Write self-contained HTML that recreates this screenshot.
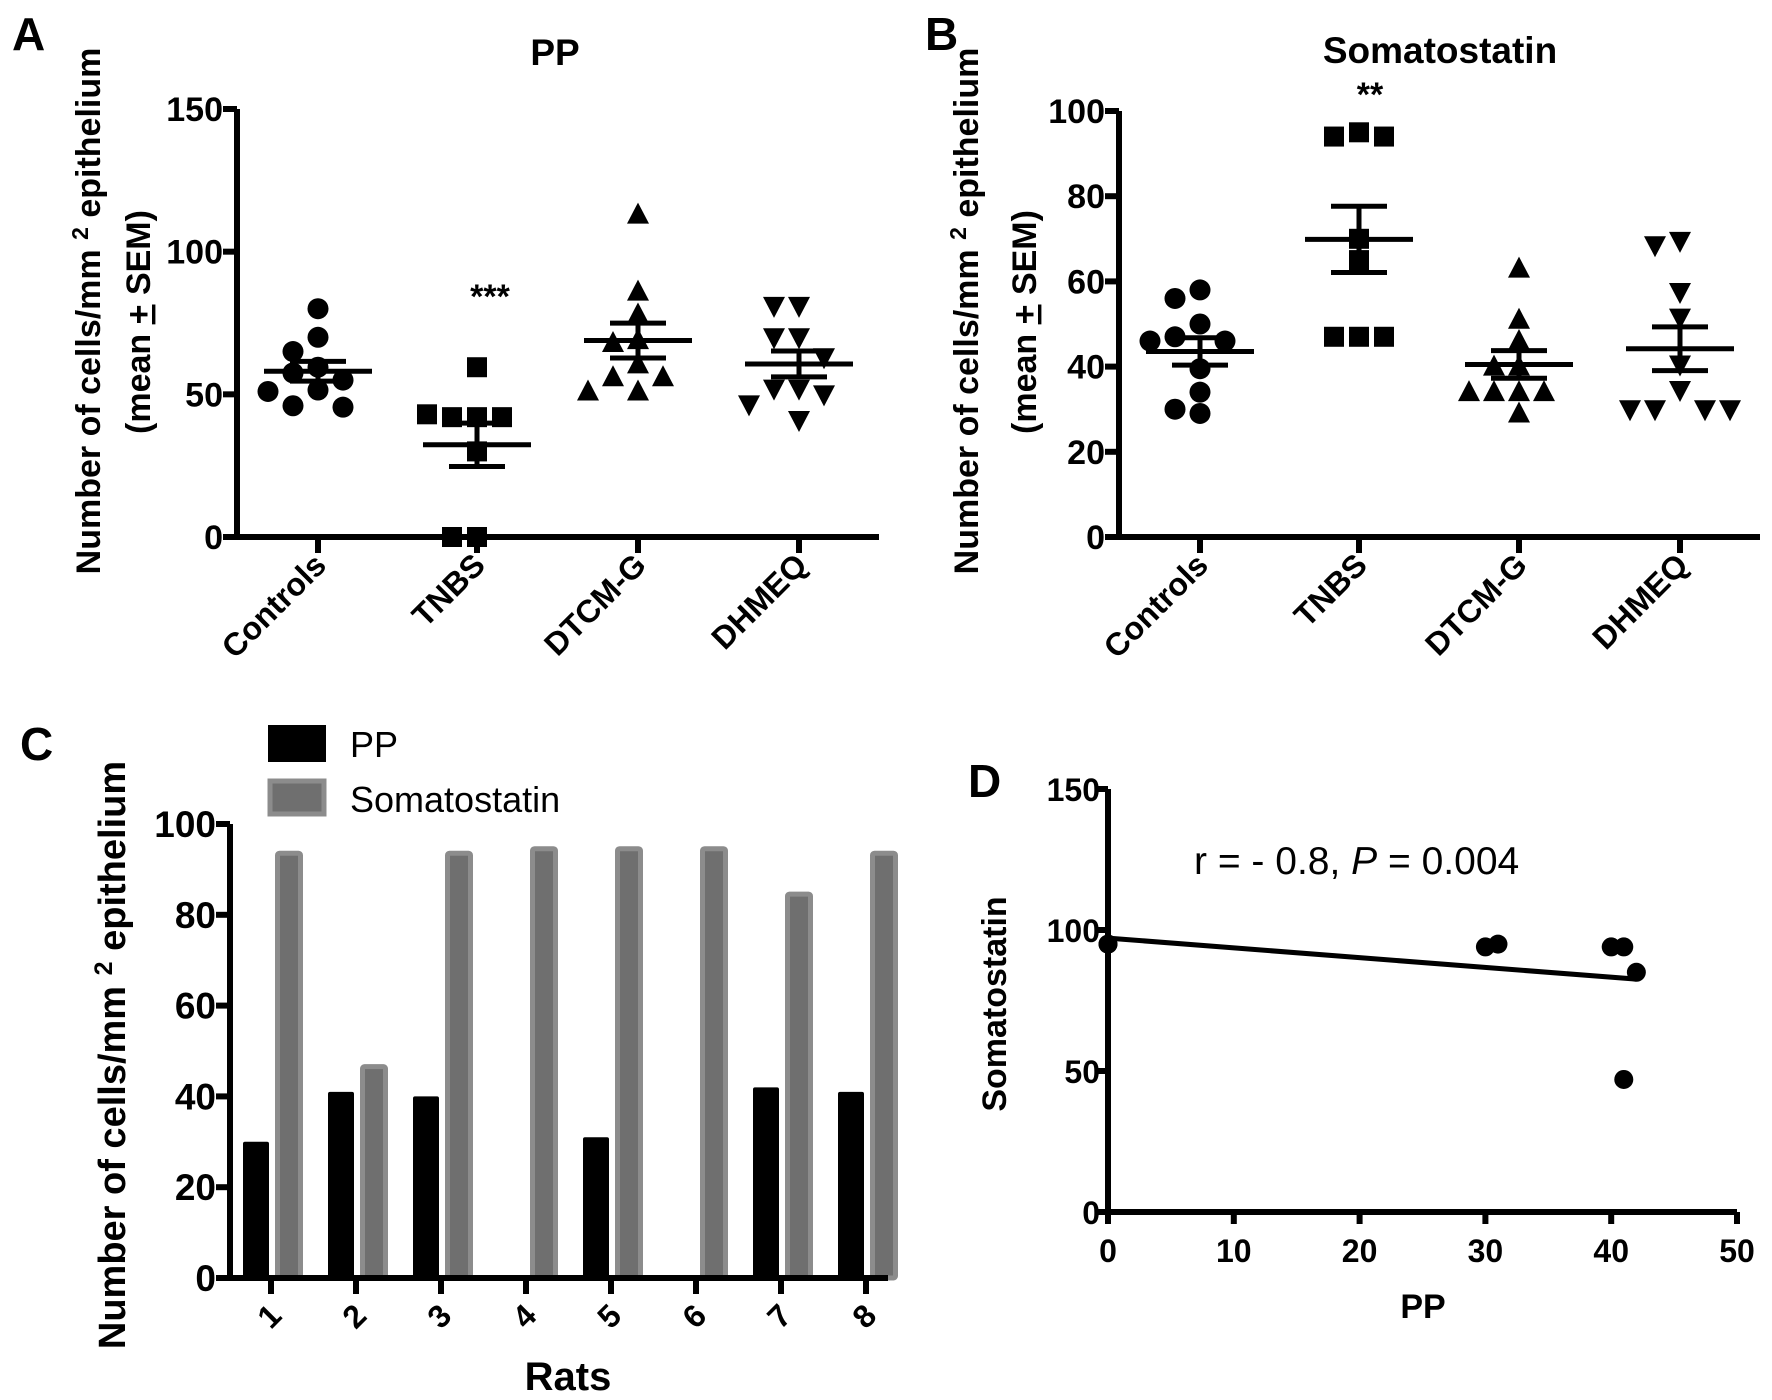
<!DOCTYPE html>
<html><head><meta charset="utf-8"><style>
html,body{margin:0;padding:0;background:#fff;}
svg{display:block;font-family:"Liberation Sans",Arial,sans-serif;}
</style></head><body>
<svg id="fig" width="1772" height="1400" viewBox="0 0 1772 1400">
<rect width="1772" height="1400" fill="#fff"/>
<text x="12" y="50" font-size="46" font-weight="bold">A</text>
<text x="555" y="65" font-size="37" font-weight="bold" text-anchor="middle">PP</text>
<text transform="translate(100,311) rotate(-90)" font-size="34" font-weight="bold" text-anchor="middle">Number of cells/mm <tspan dy="-12" font-size="23">2</tspan><tspan dy="12"> epithelium</tspan></text>
<text transform="translate(150,322) rotate(-90)" font-size="34" font-weight="bold" text-anchor="middle">(mean <tspan text-decoration="underline">+</tspan> SEM)</text>
<text x="490" y="308" font-size="34" font-weight="bold" text-anchor="middle">***</text>

<text x="925" y="50" font-size="46" font-weight="bold">B</text>
<text x="1440" y="63" font-size="37" font-weight="bold" text-anchor="middle">Somatostatin</text>
<text transform="translate(978,311) rotate(-90)" font-size="34" font-weight="bold" text-anchor="middle">Number of cells/mm <tspan dy="-12" font-size="23">2</tspan><tspan dy="12"> epithelium</tspan></text>
<text transform="translate(1036,322) rotate(-90)" font-size="34" font-weight="bold" text-anchor="middle">(mean <tspan text-decoration="underline">+</tspan> SEM)</text>
<text x="1370" y="106" font-size="34" font-weight="bold" text-anchor="middle">**</text>

<text x="20" y="760" font-size="46" font-weight="bold">C</text>
<text transform="translate(125,1055) rotate(-90)" font-size="38" font-weight="bold" text-anchor="middle">Number of cells/mm <tspan dy="-13" font-size="25">2</tspan><tspan dy="13"> epithelium</tspan></text>
<text x="568" y="1390" font-size="40" font-weight="bold" text-anchor="middle">Rats</text>
<rect x="268" y="725" width="58" height="37" fill="#000"/>
<text x="350" y="757" font-size="36">PP</text>
<rect x="270" y="781" width="54" height="33" fill="#6f6f6f" stroke="#8c8c8c" stroke-width="5"/>
<text x="350" y="812" font-size="36">Somatostatin</text>

<text x="968" y="797" font-size="46" font-weight="bold">D</text>
<text transform="translate(1006,1004) rotate(-90)" font-size="34" font-weight="bold" text-anchor="middle">Somatostatin</text>
<text x="1423" y="1318" font-size="34" font-weight="bold" text-anchor="middle">PP</text>
<text x="1194" y="874" font-size="39">r = - 0.8, <tspan font-style="italic">P</tspan> = 0.004</text>
<g id="plots"></g>
</svg>
<script>
// ---------- Panel A data (PP) ----------
const groups = ["Controls","TNBS","DTCM-G","DHMEQ"];
const ppControls = [80,70,65,59.5,57.5,55,51.5,51,46,45.5];
const ppTNBS = [59.5,42,42,42,43,30,0,0];
const ppDTCM = [113,86,78,69,68,60.5,56,56,51,51];
const ppDHMEQ = [81,81,70,70,63,52,52,50,46.5,41];
const ppTicks = [0,50,100,150];
// ---------- Panel B data (Somatostatin) ----------
const ssControls = [58,56,50,47,46,46,39.5,34,29,30];
const ssTNBS = [95,94,94,70,65,47,47,47];
const ssDTCM = [63,51,46,40,40,34,34,34,34,29];
const ssDHMEQ = [69.5,68.5,57.5,51.5,40.5,34.5,30,30,30,30];
const ssTicks = [0,20,40,60,80,100];
// ---------- Panel C data ----------
const rats = ["1","2","3","4","5","6","7","8"];
const ratPP = [30,41,40,0,31,0,42,41];
const ratSS = [94,47,94,95,95,95,85,94];
const cTicks = [0,20,40,60,80,100];
// ---------- Panel D data ----------
const dTicksX = [0,10,20,30,40,50];
const dTicksY = [0,50,100,150];

const NS="http://www.w3.org/2000/svg";
const root=document.getElementById("plots");
function mk(tag,attrs,parent){const e=document.createElementNS(NS,tag);for(const k in attrs)e.setAttribute(k,attrs[k]);(parent||root).appendChild(e);return e;}
function mean(a){return a.reduce((s,v)=>s+v,0)/a.length;}
function sem(a){const m=mean(a);const v=a.reduce((s,x)=>s+(x-m)*(x-m),0)/(a.length-1);return Math.sqrt(v)/Math.sqrt(a.length);}

function marker(shape,cx,cy,g){
  let e;
  if(shape==="circle"){e=mk("circle",{cx:cx,cy:cy,r:10.5,fill:"#000"},g);}
  else if(shape==="square"){e=mk("rect",{x:cx-10,y:cy-10,width:20,height:20,fill:"#000"},g);}
  else if(shape==="up"){e=mk("polygon",{points:`${cx},${cy-12} ${cx+11},${cy+9} ${cx-11},${cy+9}`,fill:"#000"},g);}
  else {e=mk("polygon",{points:`${cx},${cy+12} ${cx+11},${cy-9} ${cx-11},${cy-9}`,fill:"#000"},g);}
  
  
}

function dotPlot(cfg){
  const g=mk("g",{});
  
  
  const y=v=>cfg.y0-(v-0)*(cfg.y0-cfg.y1)/cfg.max;
  const ya=mk("line",{x1:cfg.ax,y1:y(cfg.max),x2:cfg.ax,y2:cfg.y0+3,stroke:"#000","stroke-width":6},g);
  
  
  const xa=mk("line",{x1:cfg.ax-14,y1:cfg.y0,x2:cfg.axEnd,y2:cfg.y0,stroke:"#000","stroke-width":6},g);
  
  
  cfg.ticks.forEach(t=>{
    const ln=mk("line",{x1:cfg.ax-14,y1:y(t),x2:cfg.ax,y2:y(t),stroke:"#000","stroke-width":6},g);
    
    
    const tx=mk("text",{x:cfg.ax-14,y:y(t)+12,"font-size":34,"font-weight":"bold","text-anchor":"end"},g);
    tx.textContent=t;
    
    
  });
  const shapes=["circle","square","up","down"];
  cfg.series.forEach((vals,i)=>{
    const cx=cfg.cats[i];
    const tk=mk("line",{x1:cx,y1:cfg.y0,x2:cx,y2:cfg.y0+16,stroke:"#000","stroke-width":6},g);
    
    
    const lb=mk("text",{transform:`translate(${cx+10},${cfg.y0+30}) rotate(-45)`,"font-size":32,"font-weight":"bold","text-anchor":"end"},g);
    lb.textContent=groups[i];
    
    
    const placed=[];const s=25;
    vals.forEach(v=>{
      const py=y(v);let off=0;
      const cands=[0,-s,s,-2*s,2*s,-3*s,3*s,-0.5*s,0.5*s,-1.5*s,1.5*s];
      for(const c of cands){
        if(!placed.some(p=>Math.abs(p[0]-(cx+c))<22&&Math.abs(p[1]-py)<20)){off=c;break;}
      }
      placed.push([cx+off,py]);
      marker(shapes[i],cx+off,py,g);
    });
    const m=mean(vals),se=sem(vals);
    const ml=mk("line",{x1:cx-54,y1:y(m),x2:cx+54,y2:y(m),stroke:"#000","stroke-width":5},g);
    
    
    const el=mk("path",{d:`M${cx-28},${y(m+se)}H${cx+28}M${cx-28},${y(m-se)}H${cx+28}M${cx},${y(m+se)}V${y(m-se)}`,stroke:"#000","stroke-width":5,fill:"none"},g);
    
    
  });
}

dotPlot({name:"panel-a-dot-plot",ax:237,axEnd:879,y0:537,y1:109,max:150,ticks:ppTicks,cats:[318,477,638,799],series:[ppControls,ppTNBS,ppDTCM,ppDHMEQ]});
dotPlot({name:"panel-b-dot-plot",ax:1119,axEnd:1760,y0:537,y1:111,max:100,ticks:ssTicks,cats:[1200,1359,1519,1680],series:[ssControls,ssTNBS,ssDTCM,ssDHMEQ]});

// ---------- Panel C ----------
(function(){
  const g=mk("g",{});
  
  
  const ax=230,y0=1278,y1=824,max=100,x0=271,step=85;
  const y=v=>y0-v*(y0-y1)/max;
  const xc=i=>x0+i*step;
  rats.forEach((r,i)=>{
    const cx=xc(i);
    if(ratPP[i]>0){
      const b=mk("rect",{x:cx-28,y:y(ratPP[i]),width:26,height:y0-y(ratPP[i]),fill:"#000",rx:2},g);
      
      
    }
    const s=mk("rect",{x:cx+6.5,y:y(ratSS[i])+2,width:23,height:y0-y(ratSS[i])-2,fill:"#6f6f6f",stroke:"#8c8c8c","stroke-width":5,rx:2},g);
    
    
    const tk=mk("line",{x1:cx,y1:y0,x2:cx,y2:y0+16,stroke:"#000","stroke-width":6},g);
    
    
    const lb=mk("text",{transform:`translate(${cx+6},${y0+46}) rotate(-45)`,"font-size":32,"font-weight":"bold","text-anchor":"middle"},g);
    lb.textContent=r;
    
    
  });
  const ya=mk("line",{x1:ax,y1:y(max),x2:ax,y2:y0+3,stroke:"#000","stroke-width":6},g);
  
  
  const xa=mk("line",{x1:ax-14,y1:y0,x2:888,y2:y0,stroke:"#000","stroke-width":6},g);
  
  
  cTicks.forEach(t=>{
    const ln=mk("line",{x1:ax-14,y1:y(t),x2:ax,y2:y(t),stroke:"#000","stroke-width":6},g);
    
    
    const tx=mk("text",{x:ax-14,y:y(t)+13,"font-size":37,"font-weight":"bold","text-anchor":"end"},g);
    tx.textContent=t;
    
    
  });
})();

// ---------- Panel D ----------
(function(){
  const g=mk("g",{});
  
  
  const ax=1108,y0=1212,y1=789,ymax=150,xmax=50,xEnd=1737;
  const x=v=>ax+v*(xEnd-ax)/xmax;
  const y=v=>y0-v*(y0-y1)/ymax;
  const ya=mk("line",{x1:ax,y1:y(ymax),x2:ax,y2:y0+12,stroke:"#000","stroke-width":6},g);
  
  
  const xa=mk("line",{x1:ax-12,y1:y0,x2:xEnd,y2:y0,stroke:"#000","stroke-width":6},g);
  
  
  dTicksY.forEach(t=>{
    const ln=mk("line",{x1:ax-12,y1:y(t),x2:ax,y2:y(t),stroke:"#000","stroke-width":6},g);
    
    
    const tx=mk("text",{x:ax-8,y:y(t)+12,"font-size":32,"font-weight":"bold","text-anchor":"end"},g);
    tx.textContent=t;
    
    
  });
  dTicksX.forEach(t=>{
    const ln=mk("line",{x1:x(t),y1:y0,x2:x(t),y2:y0+12,stroke:"#000","stroke-width":6},g);
    
    
    const tx=mk("text",{x:x(t),y:y0+50,"font-size":32,"font-weight":"bold","text-anchor":"middle"},g);
    tx.textContent=t;
    
    
  });
  const mx=mean(ratPP),my=mean(ratSS);
  let sxy=0,sxx=0;ratPP.forEach((v,i)=>{sxy+=(v-mx)*(ratSS[i]-my);sxx+=(v-mx)*(v-mx);});
  const b=sxy/sxx,a=my-b*mx;const xm=Math.max(...ratPP);
  const rl=mk("line",{x1:x(0),y1:y(a),x2:x(xm),y2:y(a+b*xm),stroke:"#000","stroke-width":5},g);
  
  
  ratPP.forEach((v,i)=>{
    const c=mk("circle",{cx:x(v),cy:y(ratSS[i]),r:9.5,fill:"#000"},g);
    
    
  });
})();
</script>
</body></html>
